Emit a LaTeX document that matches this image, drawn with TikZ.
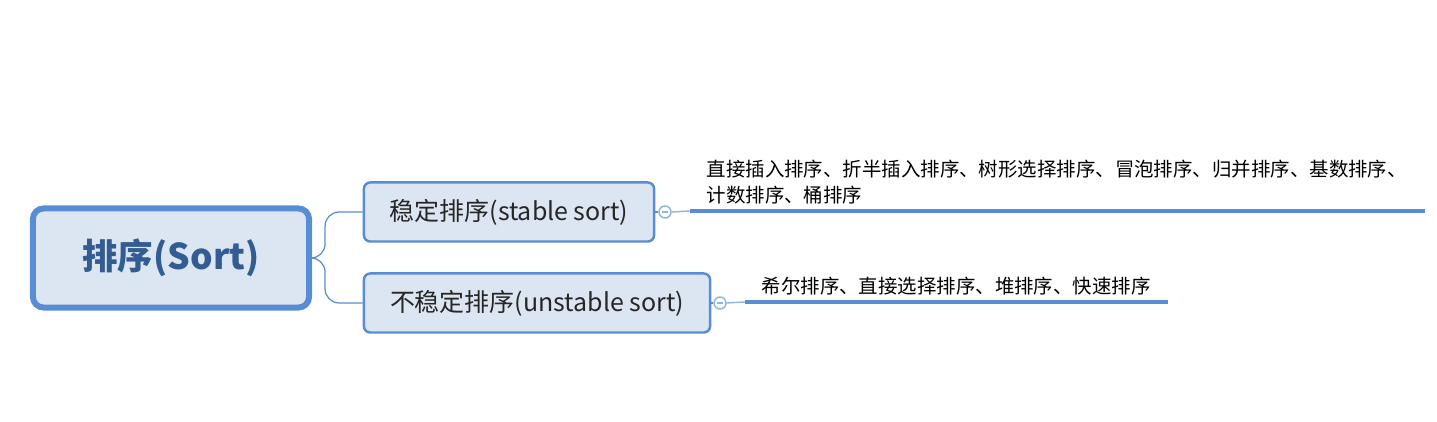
\documentclass[tikz,border=0pt]{standalone}
\usepackage{fontspec}
\setmainfont{Noto Sans CJK SC}
\usetikzlibrary{positioning}
\definecolor{mapblue}{HTML}{588DD3}
\definecolor{mapfill}{HTML}{DCE6F2}
\definecolor{rootink}{HTML}{335C92}
\definecolor{knobline}{HTML}{8DB4E2}

\begin{document}
\begin{tikzpicture}[x=0.01cm,y=-0.01cm,
  rootbox/.style={draw=mapblue,line width=1.7pt,rounded corners=3pt,fill=mapfill,
    minimum width=2.76cm,minimum height=0.99cm,font=\fontsize{10.1}{12}\selectfont\bfseries,text=rootink},
  branchbox/.style={draw=mapblue,line width=0.7pt,rounded corners=1.8pt,fill=mapfill,
    minimum height=0.59cm,font=\fontsize{7.1}{8}\selectfont,text=black!85},
  knob/.style={circle,draw=knobline,fill=white,line width=0.4pt,minimum size=0.12cm,inner sep=0pt},
  leaftext/.style={font=\fontsize{5.53}{7.4}\selectfont,align=left,inner sep=0pt,anchor=north west},
  conn/.style={draw=mapblue,line width=0.35pt},
  leafline/.style={draw=mapblue,line width=1.4pt}]
\useasboundingbox (0,0) rectangle (1437,422);
% main topic and branches
\node[rootbox] (root) at (171,258) {排序(Sort)};
\node[branchbox,minimum width=2.90cm] (stable) at (509,212) {稳定排序(stable sort)};
\node[branchbox,minimum width=3.46cm] (unstable) at (537,303) {不稳定排序(unstable sort)};
\draw[conn,rounded corners=4pt] (root.east) -- ++(13,0) |- (stable.west);
\draw[conn,rounded corners=4pt] (root.east) -- ++(13,0) |- (unstable.west);
% stable leaf
\node[knob] (k1) at (665,212) {};
\draw[knobline,line width=0.4pt] (k1.center) ++(-3,0) -- ++(6,0);
\coordinate (l1a) at (690,211);
\coordinate (l1b) at (1425,211);
\draw[conn] (stable.east) -- (k1.west);
\draw[knobline,line width=0.4pt] (k1.east) -- (l1a);
\draw[leafline] (l1a) -- (l1b);
\node[leaftext] (t1) at (706,159) {直接插入排序、折半插入排序、树形选择排序、冒泡排序、归并排序、基数排序、\\计数排序、桶排序};
% unstable leaf
\node[knob] (k2) at (720,303) {};
\draw[knobline,line width=0.4pt] (k2.center) ++(-3,0) -- ++(6,0);
\coordinate (l2a) at (745,302);
\coordinate (l2b) at (1168,302);
\draw[conn] (unstable.east) -- (k2.west);
\draw[knobline,line width=0.4pt] (k2.east) -- (l2a);
\draw[leafline] (l2a) -- (l2b);
\node[leaftext] (t2) at (761,276) {希尔排序、直接选择排序、堆排序、快速排序};
\end{tikzpicture}
\end{document}
